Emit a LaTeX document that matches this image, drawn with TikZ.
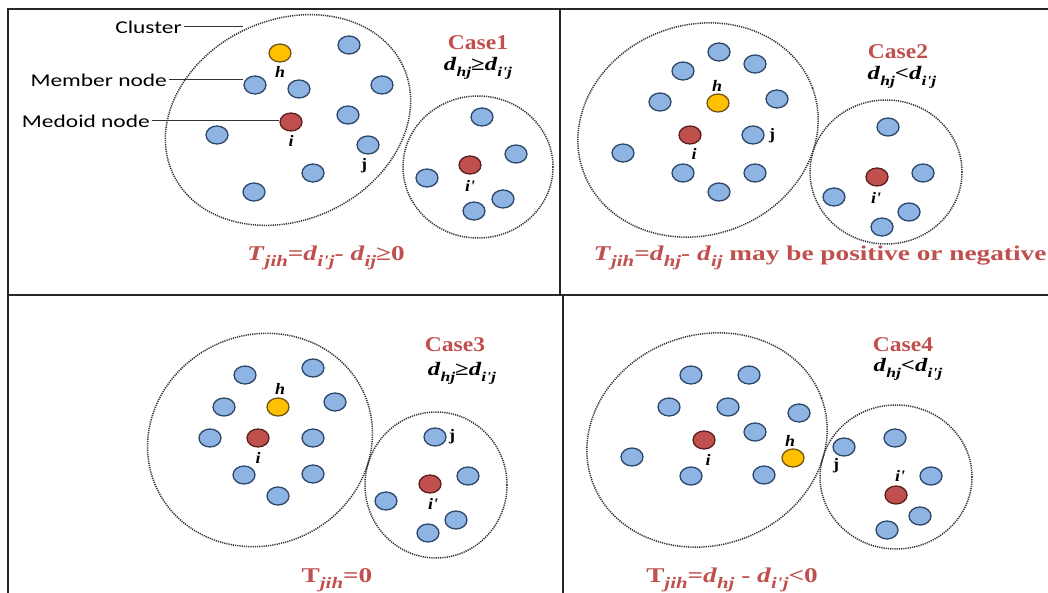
\documentclass[tikz,border=0pt]{standalone}
\usepackage{fontspec}
\usetikzlibrary{shapes.geometric}
\newfontfamily\calib[FakeStretch=1.3]{Carlito}
\newfontfamily\ser[FakeStretch=1.12]{Liberation Serif}
\newfontfamily\serw[FakeStretch=1.3]{Liberation Serif}
\def\subsz{14}
\newcommand\sub[1]{\raisebox{-0.3em}{\itshape\fontsize{\subsz}{\subsz}\selectfont #1}}
\newcommand\vi[1]{\textit{#1}}
\definecolor{nblue}{RGB}{141,180,226}
\definecolor{nblueb}{RGB}{45,70,105}
\definecolor{nred}{RGB}{192,80,77}
\definecolor{nredb}{RGB}{90,30,30}
\definecolor{nyel}{RGB}{255,192,0}
\definecolor{nyelb}{RGB}{110,85,20}
\definecolor{tred}{RGB}{192,80,77}
\tikzset{
  mem/.style={ellipse, draw=nblueb, fill=nblue, line width=1.3pt, minimum width=22pt, minimum height=18pt, inner sep=0pt},
  med/.style={mem, draw=nredb, fill=nred},
  cand/.style={mem, draw=nyelb, fill=nyel},
  clus/.style={draw=black!80, line width=1.5pt, dash pattern=on 1.2pt off 1pt},
  lbl/.style={font=\ser\bfseries\itshape\fontsize{16}{16}\selectfont, inner sep=0pt},
  jlbl/.style={font=\ser\bfseries\fontsize{16}{16}\selectfont, inner sep=0pt},
  side/.style={font=\calib\fontsize{18}{18}\selectfont, inner sep=2pt},
  casel/.style={font=\ser\bfseries\fontsize{21}{21}\selectfont, text=tred, inner sep=0pt},
  cond/.style={font=\def\subsz{13.5}\serw\bfseries\fontsize{19}{19}\selectfont, inner sep=0pt},
  formula/.style={font=\def\subsz{16}\serw\bfseries\fontsize{21}{21}\selectfont, text=tred, inner sep=0pt},
  frame/.style={line width=2pt, black!85},
  pointer/.style={line width=1pt, black!80}
}
\begin{document}
\begin{tikzpicture}[x=1pt, y=-1pt]
\useasboundingbox (0,0) rectangle (1048,593);
% frame and dividers
\draw[frame] (8,593) -- (8,9.5) -- (1048,9.5);
\draw[frame] (8,295) -- (1048,295);
\draw[frame] (560,9.5) -- (560,295);
\draw[frame] (563,295) -- (563,593);

% ================= Case 1 =================
\draw[clus, rotate around={25:(288,120)}] (288,120) ellipse [x radius=127, y radius=100];
\draw[clus] (478,167) ellipse [x radius=75, y radius=71];
\node[cand] (a-h) at (280,53) {};
\node[mem] (a-m1) at (349,45) {};
\node[mem] (a-m2) at (255,85) {};
\node[mem] (a-m3) at (299,89) {};
\node[mem] (a-m4) at (382,85) {};
\node[mem] (a-m5) at (348,115) {};
\node[med] (a-i) at (291,122) {};
\node[mem] (a-m6) at (217,135) {};
\node[mem] (a-j) at (368,145) {};
\node[mem] (a-m7) at (313,173) {};
\node[mem] (a-m8) at (254,192) {};
\node[lbl] (a-hl) at (280,72) {h};
\node[lbl] (a-il) at (291,141) {i};
\node[jlbl] (a-jl) at (364,166) {j};
\node[mem] (a-n1) at (482,117) {};
\node[mem] (a-n2) at (516,154) {};
\node[med] (a-ip) at (470,165) {};
\node[mem] (a-n3) at (427,178) {};
\node[mem] (a-n4) at (503,199) {};
\node[mem] (a-n5) at (474,211) {};
\node[lbl] (a-ipl) at (470,186) {i'};
\node[casel] (a-case) at (478,43) {Case1};
\node[cond] (a-cond) at (478,68) {\vi{d}\sub{hj}≥\vi{d}\sub{i'j}};
\node[formula] (a-f) at (326,258) {\vi{T}\sub{jih}=\vi{d}\sub{i'j}- \vi{d}\sub{ij}≥0};
% legend
\node[side, anchor=east] (l-clus) at (184,27) {Cluster};
\coordinate (c-edge) at (243,27);
\draw[pointer] (l-clus.east) -- (c-edge);
\node[side, anchor=east] (l-mem) at (169,80) {Member node};
\draw[pointer] (l-mem.east) -- (l-mem.east -| a-m2.west);
\node[side, anchor=east] (l-med) at (152,121) {Medoid node};
\draw[pointer] (l-med.east) -- (l-med.east -| a-i.west);

% ================= Case 2 =================
\draw[clus, rotate around={20:(698,130)}] (698,130) ellipse [x radius=122, y radius=105];
\draw[clus] (886,172) ellipse [x radius=76, y radius=72];
\node[mem] (b-m1) at (719,52) {};
\node[mem] (b-m2) at (755,64) {};
\node[mem] (b-m3) at (683,71) {};
\node[mem] (b-m4) at (660,102) {};
\node[cand] (b-h) at (718,103) {};
\node[mem] (b-m5) at (777,99) {};
\node[med] (b-i) at (690,135) {};
\node[mem] (b-j) at (753,135) {};
\node[mem] (b-m6) at (623,153) {};
\node[mem] (b-m7) at (683,173) {};
\node[mem] (b-m8) at (755,173) {};
\node[mem] (b-m9) at (719,192) {};
\node[lbl] (b-hl) at (717,86) {h};
\node[lbl] (b-il) at (694,154) {i};
\node[jlbl] (b-jl) at (772,136) {j};
\node[mem] (b-n1) at (888,127) {};
\node[mem] (b-n2) at (923,173) {};
\node[med] (b-ip) at (877,177) {};
\node[mem] (b-n3) at (834,197) {};
\node[mem] (b-n4) at (909,212) {};
\node[mem] (b-n5) at (882,227) {};
\node[lbl] (b-ipl) at (876,198) {i'};
\node[casel] (b-case) at (898,52) {Case2};
\node[cond] (b-cond) at (902,77) {\vi{d}\sub{hj}<\vi{d}\sub{i'j}};
\node[formula] (b-f) at (820,258) {\vi{T}\sub{jih}=\vi{d}\sub{hj}- \vi{d}\sub{ij} may be positive or negative};

% ================= Case 3 =================
\draw[clus, rotate around={25:(260,440)}] (260,440) ellipse [x radius=114, y radius=105];
\draw[clus] (436,485) ellipse [x radius=71, y radius=73];
\node[mem] (c-m1) at (245,375) {};
\node[mem] (c-m2) at (313,368) {};
\node[mem] (c-m3) at (224,407) {};
\node[cand] (c-h) at (278,407) {};
\node[mem] (c-m4) at (335,402) {};
\node[mem] (c-m5) at (210,438) {};
\node[med] (c-i) at (258,438) {};
\node[mem] (c-m6) at (313,438) {};
\node[mem] (c-m7) at (244,475) {};
\node[mem] (c-m8) at (313,474) {};
\node[mem] (c-m9) at (278,496) {};
\node[lbl] (c-hl) at (280,389) {h};
\node[lbl] (c-il) at (258,458) {i};
\node[mem] (c-j) at (435,437) {};
\node[mem] (c-n1) at (468,476) {};
\node[med] (c-ip) at (430,484) {};
\node[mem] (c-n2) at (386,501) {};
\node[mem] (c-n3) at (456,520) {};
\node[mem] (c-n4) at (428,533) {};
\node[lbl] (c-ipl) at (433,504) {i'};
\node[jlbl] (c-jl) at (452,437) {j};
\node[casel] (c-case) at (455,345) {Case3};
\node[cond] (c-cond) at (462,373) {\vi{d}\sub{hj}≥\vi{d}\sub{i'j}};
\node[formula] (c-f) at (337,580) {T\sub{jih}=0};

% ================= Case 4 =================
\draw[clus, rotate around={20:(707,440)}] (707,440) ellipse [x radius=122, y radius=105];
\draw[clus] (896,477) ellipse [x radius=76, y radius=72];
\node[mem] (d-m1) at (691,375) {};
\node[mem] (d-m2) at (749,375) {};
\node[mem] (d-m3) at (669,407) {};
\node[mem] (d-m4) at (728,407) {};
\node[mem] (d-m5) at (799,413) {};
\node[mem] (d-m6) at (755,432) {};
\node[med] (d-i) at (704,440) {};
\node[mem] (d-m7) at (632,457) {};
\node[cand] (d-h) at (793,458) {};
\node[mem] (d-m8) at (691,476) {};
\node[mem] (d-m9) at (764,475) {};
\node[lbl] (d-il) at (708,460) {i};
\node[lbl] (d-hl) at (790,441) {h};
\node[mem] (d-j) at (844,447) {};
\node[mem] (d-n1) at (895,438) {};
\node[mem] (d-n2) at (931,476) {};
\node[med] (d-ip) at (896,495) {};
\node[mem] (d-n3) at (920,516) {};
\node[mem] (d-n4) at (887,530) {};
\node[lbl] (d-ipl) at (900,476) {i'};
\node[jlbl] (d-jl) at (836,466) {j};
\node[casel] (d-case) at (903,345) {Case4};
\node[cond] (d-cond) at (908,369) {\vi{d}\sub{hj}<\vi{d}\sub{i'j}};
\node[formula] (d-f) at (732,580) {T\sub{jih}=\vi{d}\sub{hj} - \vi{d}\sub{i'j}<0};
\end{tikzpicture}
\end{document}
